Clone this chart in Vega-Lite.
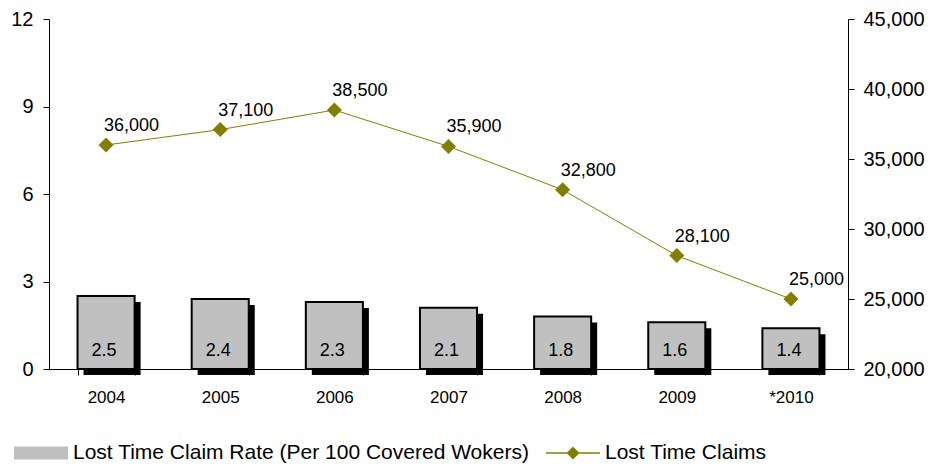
{
  "$schema": "https://vega.github.io/schema/vega-lite/v6.json",
  "width": 799,
  "height": 350,
  "autosize": {"type": "none"},
  "padding": {"left": 49, "top": 19, "right": 86, "bottom": 97},
  "background": "white",
  "config": {
    "view": {"stroke": null},
    "font": "Liberation Sans",
    "axis": {
      "grid": false,
      "labelFont": "Liberation Sans",
      "labelColor": "#000000",
      "domainColor": "#000000",
      "tickColor": "#000000",
      "domainWidth": 1,
      "tickWidth": 1,
      "title": null
    },
    "legend": {
      "orient": "none",
      "legendX": -36,
      "legendY": 406,
      "direction": "horizontal",
      "labelFontSize": 21,
      "labelFont": "Liberation Sans",
      "labelColor": "#000000",
      "labelLimit": 800,
      "labelOffset": 4,
      "columnPadding": 13,
      "symbolSize": 2916,
      "symbolOpacity": 1
    }
  },
  "data": {
    "values": [
      {"year": "2004", "rate": 2.5, "claims": 36000},
      {"year": "2005", "rate": 2.4, "claims": 37100},
      {"year": "2006", "rate": 2.3, "claims": 38500},
      {"year": "2007", "rate": 2.1, "claims": 35900},
      {"year": "2008", "rate": 1.8, "claims": 32800},
      {"year": "2009", "rate": 1.6, "claims": 28100},
      {"year": "*2010", "rate": 1.4, "claims": 25000}
    ]
  },
  "encoding": {
    "x": {
      "field": "year",
      "type": "nominal",
      "sort": null,
      "scale": {"paddingInner": 0.5, "paddingOuter": 0.25},
      "axis": {
        "labelAngle": 0,
        "tickBand": "extent",
        "tickSize": 6,
        "labelPadding": 14,
        "labelFontSize": 17
      }
    }
  },
  "layer": [
    {
      "encoding": {
        "y": {
          "field": "rate",
          "type": "quantitative",
          "scale": {"domain": [0, 12], "nice": false},
          "axis": {
            "orient": "left",
            "values": [0, 3, 6, 9, 12],
            "tickSize": 6,
            "labelPadding": 10,
            "labelFontSize": 20
          }
        }
      },
      "layer": [
        {
          "mark": {"type": "bar", "color": "#000000", "xOffset": 6, "yOffset": 6, "y2Offset": 0}
        },
        {
          "mark": {"type": "bar", "opacity": 1},
          "encoding": {
            "color": {
              "datum": "Lost Time Claim Rate (Per 100 Covered Wokers)",
              "scale": {
                "domain": ["Lost Time Claim Rate (Per 100 Covered Wokers)", "Lost Time Claims"],
                "range": ["#c0c0c0", "#808000"]
              },
              "legend": {"title": null}
            }
          }
        },
        {
          "mark": {"type": "bar", "fill": "transparent", "stroke": "#000000", "strokeWidth": 2}
        },
        {
          "mark": {"type": "text", "fontSize": 18, "baseline": "middle", "dy": -18, "dx": -2, "color": "#000000"},
          "encoding": {
            "y": {"datum": 0, "type": "quantitative"},
            "text": {"field": "rate", "type": "quantitative", "format": ".1f"}
          }
        }
      ]
    },
    {
      "encoding": {
        "y": {
          "field": "claims",
          "type": "quantitative",
          "scale": {"domain": [20000, 45000], "nice": false, "zero": false},
          "axis": {
            "orient": "right",
            "values": [20000, 25000, 30000, 35000, 40000, 45000],
            "labelExpr": "format(datum.value, ',')",
            "tickSize": 6,
            "labelPadding": 9,
            "labelFontSize": 20
          }
        }
      },
      "layer": [
        {
          "mark": {"type": "line", "strokeWidth": 1, "color": "#808000"}
        },
        {
          "mark": {"type": "point", "shape": "diamond", "filled": true, "size": 225, "opacity": 1, "color": "#808000"}
        },
        {
          "mark": {"type": "point", "filled": true, "opacity": 0},
          "encoding": {
            "color": {"datum": "Lost Time Claims"},
            "shape": {
              "datum": "Lost Time Claims",
              "scale": {
                "domain": ["Lost Time Claim Rate (Per 100 Covered Wokers)", "Lost Time Claims"],
                "range": ["M-1,-0.24H1V0.24H-1Z", "M-1,-0.03H1V0.03H-1ZM-0.24,0L0,-0.24L0.24,0L0,0.24Z"]
              },
              "legend": {"title": null}
            }
          }
        },
        {
          "mark": {"type": "text", "fontSize": 18, "align": "left", "baseline": "middle", "dx": -2, "dy": -19, "color": "#000000"},
          "encoding": {
            "text": {"field": "claims", "type": "quantitative", "format": ","}
          }
        }
      ]
    }
  ],
  "resolve": {"scale": {"y": "independent"}}
}
